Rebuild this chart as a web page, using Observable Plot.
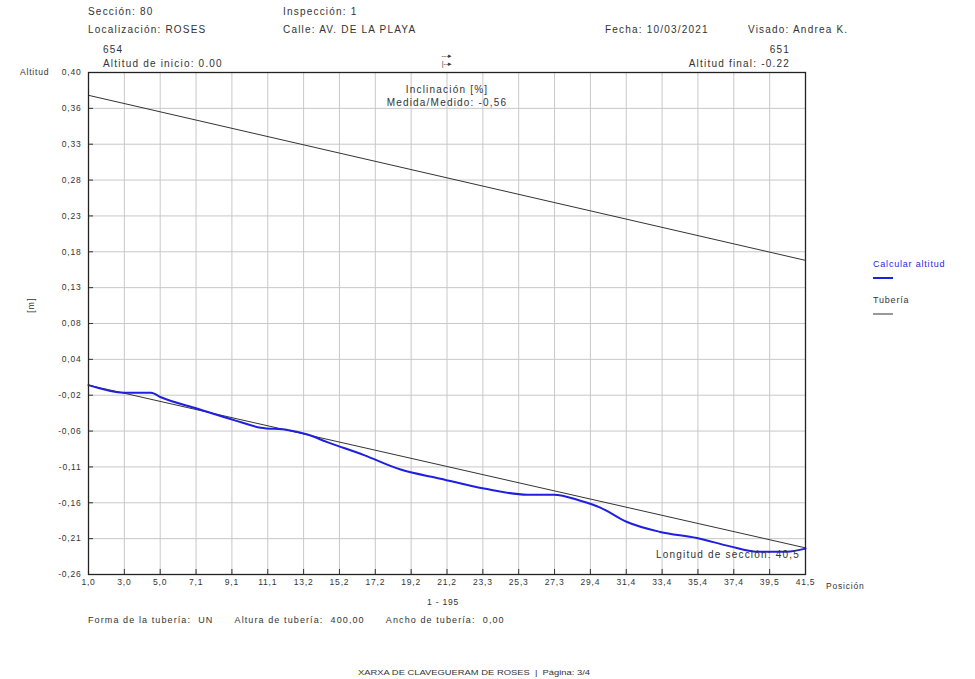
<!DOCTYPE html>
<html>
<head>
<meta charset="utf-8">
<script src="https://cdn.jsdelivr.net/npm/d3@7"></script>
<script src="https://cdn.jsdelivr.net/npm/@observablehq/plot@0.6"></script>
<style>
  html, body { margin: 0; padding: 0; background: #fff; }
  #chart svg { display: block; font-family: "Liberation Sans", Arial, sans-serif; }
</style>
</head>
<body>
<div id="chart"></div>
<script>
// ---- data ----
const posCalc = [1.0, 3.02, 4.53, 5.09, 7.16, 9.22, 10.73, 12.24, 13.37, 14.49, 16.56, 18.63, 20.88, 23.33, 25.78, 27.28, 28.78, 29.91, 31.42, 33.29, 35.36, 37.24, 38.75, 40.44, 41.5];
const altCalc = [-0.011, -0.021, -0.021, -0.027, -0.042, -0.057, -0.067, -0.070, -0.076, -0.086, -0.103, -0.122, -0.134, -0.147, -0.155, -0.155, -0.163, -0.172, -0.191, -0.204, -0.212, -0.223, -0.230, -0.230, -0.226];
const posPipe = [1.0, 41.5];
const pipeBottom = [-0.011, -0.225];
const pipeTop = [0.370, 0.153];
const xTickLabels = ["1,0","3,0","5,0","7,1","9,1","11,1","13,2","15,2","17,2","19,2","21,2","23,3","25,3","27,3","29,4","31,4","33,4","35,4","37,4","39,5","41,5"];
const yTickLabels = ["0,40","0,36","0,33","0,28","0,23","0,18","0,13","0,08","0,04","-0,02","-0,06","-0,11","-0,16","-0,21","-0,26"];
const xDomain = [1.0, 41.5];
const yDomain = [-0.26, 0.40];

// ---- tables ----
const calc = posCalc.map((p, i) => ({pos: p, alt: altCalc[i]}));
const pipeB = posPipe.map((p, i) => ({pos: p, alt: pipeBottom[i]}));
const pipeT = posPipe.map((p, i) => ({pos: p, alt: pipeTop[i]}));
const xTicks = xTickLabels.map((_, i) => xDomain[0] + i * (xDomain[1] - xDomain[0]) / (xTickLabels.length - 1));
const yTicks = yTickLabels.map((_, i) => yDomain[1] - i * (yDomain[1] - yDomain[0]) / (yTickLabels.length - 1));
const xLab = new Map(xTicks.map((t, i) => [t, xTickLabels[i]]));
const yLab = new Map(yTicks.map((t, i) => [t, yTickLabels[i]]));

const W = 975, H = 679;
const ML = 88, MR = 170, MT = 72, MB = 105;

const chart = Plot.plot({
  width: W, height: H,
  marginLeft: ML, marginRight: MR, marginTop: MT, marginBottom: MB,
  style: {fontFamily: "Liberation Sans, Arial, sans-serif", fontSize: "8.5px", letterSpacing: "0.8px", color: "#333", background: "#fff"},
  x: {domain: xDomain},
  y: {domain: yDomain},
  marks: [
    Plot.gridX(xTicks, {stroke: "#c8c8c8", strokeOpacity: 1}),
    Plot.gridY(yTicks, {stroke: "#c8c8c8", strokeOpacity: 1}),
    Plot.axisX(xTicks, {tickSize: -5, tickPadding: 9, tickFormat: d => xLab.get(d), label: null, stroke: "#333", fill: "#333"}),
    Plot.axisY(yTicks, {tickSize: -5, tickPadding: 12, tickFormat: d => yLab.get(d), label: null, stroke: "#333", fill: "#333"}),
    Plot.line(pipeT, {x: "pos", y: "alt", stroke: "#333", strokeWidth: 1}),
    Plot.line(pipeB, {x: "pos", y: "alt", stroke: "#333", strokeWidth: 1}),
    Plot.line(calc, {x: "pos", y: "alt", stroke: "#1f1fe0", strokeWidth: 2, curve: "monotone-x"}),
    Plot.frame({stroke: "#222", strokeWidth: 1.3})
  ]
});
document.getElementById("chart").appendChild(chart);

// ---- annotations (header, legend, footer) ----
const svg = d3.select(chart);
const g = svg.append("g").attr("font-family", "Liberation Sans, Arial, sans-serif").attr("fill", "#333")
  .attr("font-size", 10).attr("letter-spacing", "1.2px").attr("text-anchor", "start");
function txt(x, y, s, opts = {}) {
  const t = g.append("text").attr("x", x).attr("y", y).attr("text-anchor", opts.anchor || "start").text(s);
  if (opts.size) t.attr("font-size", opts.size);
  if (opts.fill) t.attr("fill", opts.fill);
  if (opts.ls != null) t.attr("letter-spacing", opts.ls);
  if (opts.len) t.attr("textLength", opts.len).attr("lengthAdjust", "spacingAndGlyphs");
  return t;
}
txt(88, 15, "Sección: 80");
txt(88, 33, "Localización: ROSES");
txt(283, 15, "Inspección: 1");
txt(283, 33, "Calle: AV. DE LA PLAYA");
txt(605, 33, "Fecha: 10/03/2021");
txt(748, 33, "Visado: Andrea K.");
txt(103, 53, "654");
txt(103, 67, "Altitud de inicio: 0.00");
txt(790, 53, "651", {anchor: "end"});
txt(790, 67, "Altitud final: -0.22", {anchor: "end"});
txt(20, 75, "Altitud", {size: 8.5, ls: "0.8px"});
txt(447, 58, "---▸", {size: 7, anchor: "middle", ls: "0px"});
txt(447, 66, "|--▸", {size: 7, anchor: "middle", ls: "0px"});
txt(447, 93, "Inclinación [%]", {anchor: "middle"});
txt(447, 106, "Medida/Medido: -0,56", {anchor: "middle"});
txt(800, 558, "Longitud de sección: 40,5", {anchor: "end"});
txt(826, 589, "Posición", {size: 8.5, ls: "0.8px"});
txt(443, 605, "1 - 195", {size: 8.5, anchor: "middle", ls: "0.8px"});
txt(88, 623, "Forma de la tubería:  UN      Altura de tubería:  400,00      Ancho de tubería:  0,00", {size: 9, ls: "1.1px"});
txt(474, 675, "XARXA DE CLAVEGUERAM DE ROSES  |  Página: 3/4", {size: 6.5, anchor: "middle", len: 232, ls: "0px"});
g.append("text").attr("transform", "translate(34,305) rotate(-90)").attr("text-anchor", "middle").attr("font-size", 8.5).text("[m]");
// legend
txt(873, 267, "Calcular altitud", {fill: "#1f1fe0", size: 9, ls: "0.8px"});
g.append("line").attr("x1", 873).attr("x2", 893).attr("y1", 278).attr("y2", 278).attr("stroke", "#1f1fe0").attr("stroke-width", 2);
txt(873, 303, "Tubería", {size: 9, ls: "0.8px"});
g.append("line").attr("x1", 873).attr("x2", 893).attr("y1", 314).attr("y2", 314).attr("stroke", "#777").attr("stroke-width", 1.5);
</script>
</body>
</html>
